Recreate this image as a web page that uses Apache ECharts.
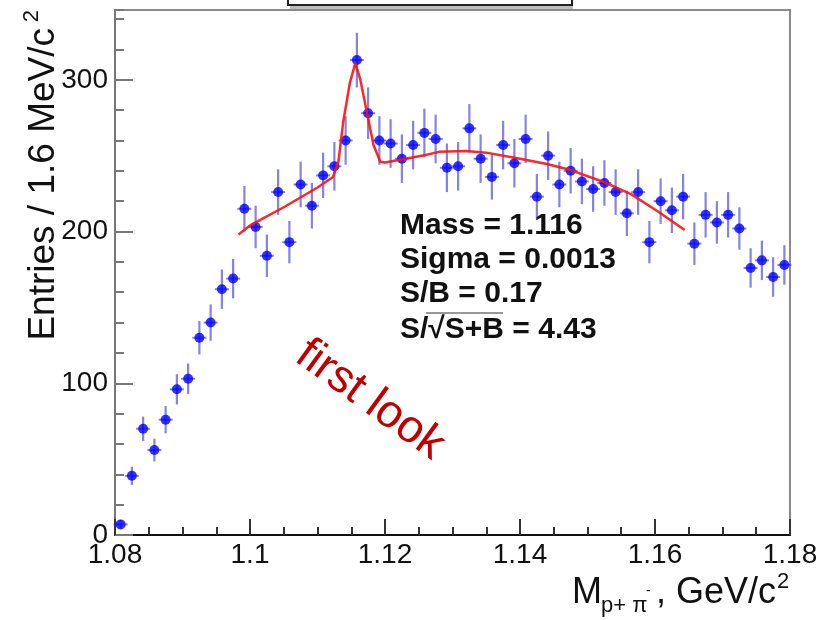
<!DOCTYPE html>
<html>
<head>
<meta charset="utf-8">
<script src="https://cdn.jsdelivr.net/npm/echarts@6/dist/echarts.min.js"></script>
<style>
  html, body { margin: 0; padding: 0; background: #fff; }
  #main { width: 835px; height: 620px; }
</style>
</head>
<body>
<div id="main"></div>
<script>
// histogram: 60 bins from 1.08 to 1.18
var histMin = 1.08;
var histMax = 1.18;
var nBins = 60;

// entries per bin
var counts = [7, 39, 70, 56, 76, 96, 103, 130, 140, 162,
              169, 215, 203, 184, 226, 193, 231, 217, 237, 243,
              260, 313, 278, 260, 258, 248, 257, 265, 261, 242,
              243, 268, 248, 236, 257, 245, 261, 223, 250, 231,
              240, 233, 228, 232, 226, 212, 226, 193, 220, 214,
              223, 192, 211, 206, 211, 202, 176, 181, 170, 178];

// half length of the vertical error bars
var errors = [3, 6, 8, 7.5, 9, 10, 10, 11, 12, 13,
              13, 15, 14, 14, 15, 14, 15, 15, 15, 16,
              16, 18, 17, 16, 16, 16, 16, 16, 16, 16,
              16, 16, 16, 15, 16, 16, 16, 15, 16, 15,
              15, 15, 15, 15, 15, 15, 15, 14, 15, 15,
              15, 14, 15, 14, 15, 14, 13, 13, 13, 13];

// fit curve
var fitX = [1.0983, 1.1, 1.105, 1.11, 1.1123, 1.1131, 1.1138, 1.1148, 1.1156, 1.1163,
            1.1173, 1.1183, 1.1193, 1.12, 1.123, 1.126, 1.128, 1.132, 1.135, 1.14,
            1.144, 1.1475, 1.1525, 1.1565, 1.1605, 1.1644];
var fitY = [198, 204, 216, 229, 236, 246, 272, 298, 311, 301,
            279, 257, 246, 245.5, 248, 250.5, 252.5, 253, 252, 248,
            244.5, 240.5, 232.5, 224.5, 213, 201];

var statLines = ['Mass = 1.116', 'Sigma = 0.0013', 'S/B = 0.17', 'S/\u221AS+B = 4.43'];

var font = 'Liberation Sans, Arial, Helvetica, sans-serif';

var binW = (histMax - histMin) / nBins;
var points = [];
for (var i = 0; i < counts.length; i++) {
    points.push([histMin + (i + 0.5) * binW, counts[i], errors[i]]);
}
var fit = [];
for (var j = 0; j < fitX.length; j++) {
    fit.push([fitX[j], fitY[j]]);
}

var myChart = echarts.init(document.getElementById('main'));

var graphics = [
    // cut-off title box at the top
    { type: 'rect', shape: { x: 288, y: -20, width: 284, height: 25 },
      style: { fill: '#fff', stroke: '#222', lineWidth: 2 }, z: 10 },
    { type: 'rect', shape: { x: 290, y: 6, width: 283, height: 3 },
      style: { fill: '#bdbdbd' }, z: 10 },
    // y title
    { type: 'text', x: 44, y: 28, rotation: Math.PI / 2,
      style: { text: 'Entries / 1.6 MeV/c', font: '37px ' + font, fill: '#111',
               align: 'right', verticalAlign: 'middle' } },
    { type: 'text', x: 32, y: 10, rotation: Math.PI / 2,
      style: { text: '2', font: '22px ' + font, fill: '#111',
               align: 'right', verticalAlign: 'middle' } },
    // x title
    { type: 'text', x: 572, y: 593,
      style: { text: 'M', font: '36px ' + font, fill: '#111', align: 'left', verticalAlign: 'middle' } },
    { type: 'text', x: 601, y: 606,
      style: { text: 'p+ \u03C0', font: '22px ' + font, fill: '#111', align: 'left', verticalAlign: 'middle' } },
    { type: 'text', x: 646, y: 591,
      style: { text: '-', font: '14px ' + font, fill: '#111', align: 'left', verticalAlign: 'middle' } },
    { type: 'text', x: 776, y: 593,
      style: { text: ', GeV/c', font: '36px ' + font, fill: '#111', align: 'right', verticalAlign: 'middle' } },
    { type: 'text', x: 777, y: 582,
      style: { text: '2', font: '22px ' + font, fill: '#111', align: 'left', verticalAlign: 'middle' } },
    // watermark
    { type: 'text', x: 370, y: 400, rotation: -36 * Math.PI / 180,
      style: { text: 'first look', font: '46px ' + font, fill: '#c00000',
               align: 'center', verticalAlign: 'middle' } },
    // overline of the square root
    { type: 'line', shape: { x1: 426, y1: 313, x2: 503, y2: 313 },
      style: { stroke: '#333', lineWidth: 1.2 } }
];
var statY = [226, 260, 294, 330];
for (var k = 0; k < statLines.length; k++) {
    graphics.push({ type: 'text', x: 400, y: statY[k],
        style: { text: statLines[k], font: 'bold 30px ' + font, fill: '#111',
                 align: 'left', verticalAlign: 'middle' } });
}

option = {
    animation: false,
    backgroundColor: '#fff',
    grid: { left: 115, right: 45, top: 10, bottom: 85, show: true,
            borderColor: '#8a8a8a', borderWidth: 2, backgroundColor: 'transparent' },
    xAxis: {
        type: 'value', min: histMin, max: histMax, interval: 0.02,
        axisLine: { show: true, onZero: false, lineStyle: { color: '#111', width: 2 } },
        axisTick: { inside: true, length: 16, lineStyle: { color: '#333', width: 2 } },
        minorTick: { show: true, splitNumber: 4, length: 8, lineStyle: { color: '#333', width: 2 } },
        splitLine: { show: false },
        axisLabel: { fontFamily: font, fontSize: 28, color: '#111', margin: 6 }
    },
    yAxis: [{
        type: 'value', min: 0, max: 346, interval: 100,
        axisLine: { show: true, lineStyle: { color: '#777', width: 2 } },
        axisTick: { inside: true, length: 18, lineStyle: { color: '#777', width: 2 } },
        splitLine: { show: false },
        axisLabel: { fontFamily: font, fontSize: 28, color: '#111', margin: 7, showMaxLabel: false }
    }, {
        type: 'value', min: 0, max: 346, interval: 20, position: 'left',
        axisLine: { show: false },
        axisTick: { inside: true, length: 9, lineStyle: { color: '#777', width: 2 } },
        splitLine: { show: false },
        axisLabel: { show: false }
    }],
    graphic: graphics,
    series: [{
        type: 'custom',
        data: points,
        z: 2,
        renderItem: function (params, api) {
            var x = api.value(0), y = api.value(1), e = api.value(2);
            var top = api.coord([x, y + e]);
            var bot = api.coord([x, y - e]);
            var mid = api.coord([x, y]);
            return {
                type: 'group',
                children: [{
                    type: 'line',
                    shape: { x1: top[0], y1: top[1], x2: bot[0], y2: bot[1] },
                    style: { stroke: 'rgba(50,50,210,0.6)', lineWidth: 2.2 }
                }, {
                    type: 'line',
                    shape: { x1: mid[0] - 7, y1: mid[1], x2: mid[0] + 7, y2: mid[1] },
                    style: { stroke: 'rgba(40,40,230,0.6)', lineWidth: 2 }
                }]
            };
        }
    }, {
        type: 'scatter',
        data: points,
        symbol: 'circle',
        symbolSize: 10,
        z: 3,
        itemStyle: { color: '#0000ff' }
    }, {
        type: 'line',
        data: fit,
        showSymbol: false,
        smooth: false,
        z: 4,
        lineStyle: { color: '#ff1010', width: 2.5, opacity: 0.9 }
    }]
};

if (option && typeof option === "object") {
    myChart.setOption(option, true);
}
</script>
</body>
</html>
